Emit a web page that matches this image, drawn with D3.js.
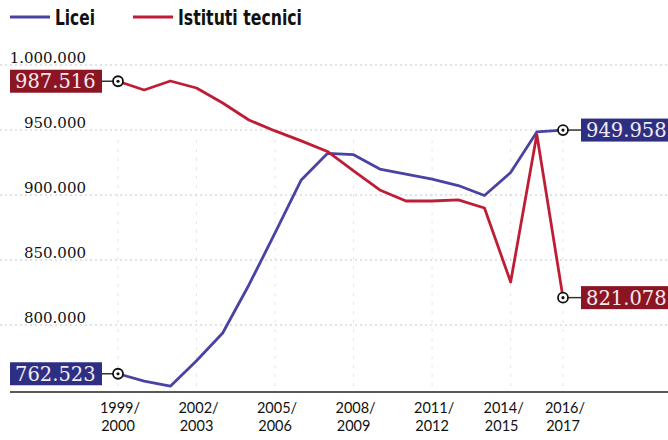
<!DOCTYPE html>
<html>
<head>
<meta charset="utf-8">
<script src="https://cdn.jsdelivr.net/npm/d3@7"></script>
<style>
  body { margin: 0; background: #fff; }
  svg { display: block; }
</style>
</head>
<body>
<div id="chart"></div>
<script>
// school years (start year) and enrolments
const years = [1999, 2000, 2001, 2002, 2003, 2004, 2005, 2006, 2007, 2008, 2009, 2010, 2011, 2012, 2013, 2014, 2015, 2016];
const licei = [762523, 756900, 753000, 772500, 793900, 830800, 870800, 911600, 932000, 931000, 920000, 916100, 912300, 907300, 899600, 917300, 948500, 949958];
const tecnici = [987516, 980800, 987700, 982300, 970800, 957700, 949300, 941600, 933500, 918500, 903900, 895400, 895400, 896200, 890000, 833100, 946500, 821078];

const yTicks = [800000, 850000, 900000, 950000, 1000000];
const xTicks = [1999, 2002, 2005, 2008, 2011, 2014, 2016];
const xTickLabels = ["1999/2000", "2002/2003", "2005/2006", "2008/2009", "2011/2012", "2014/2015", "2016/2017"];

const width = 668;
const height = 440;

const svg = d3.select("#chart").append("svg")
  .attr("width", width)
  .attr("height", height);

const x = d3.scaleLinear().domain([1999, 2016]).range([118, 563]);
const y = d3.scaleLinear().domain([748500, 1000000]).range([392, 65]);

const fmt = d3.formatLocale({ decimal: ",", thousands: ".", grouping: [3], currency: ["", "€"] }).format(",d");

const colLicei = "#4a43a3";
const colTecnici = "#bf1d36";

// vertical faint grid at labelled years
svg.append("g").selectAll("line")
  .data(xTicks)
  .join("line")
  .attr("x1", d => x(d)).attr("x2", d => x(d))
  .attr("y1", 140).attr("y2", 392)
  .attr("stroke", "#e6e6e6")
  .attr("stroke-dasharray", "3,6");

// horizontal dotted grid
svg.append("g").selectAll("line")
  .data(yTicks)
  .join("line")
  .attr("x1", 0).attr("x2", width)
  .attr("y1", d => y(d)).attr("y2", d => y(d))
  .attr("stroke", "#c8c8c8")
  .attr("stroke-width", 1)
  .attr("stroke-dasharray", "2,3");

// y labels
svg.append("g").selectAll("text")
  .data(yTicks)
  .join("text")
  .attr("x", 86)
  .attr("y", d => y(d) - 2)
  .attr("text-anchor", "end")
  .attr("font-family", "'DejaVu Serif', serif")
  .attr("font-size", "15px")
  .attr("fill", "#111")
  .text(d => fmt(d));

// x axis baseline
svg.append("line")
  .attr("x1", 10).attr("x2", width)
  .attr("y1", 392).attr("y2", 392)
  .attr("stroke", "#222")
  .attr("stroke-width", 1.5);

// x labels, two lines each (2014 label nudged left as in the original)
const labelX = d => x(d) + (d === 2014 ? -9 : 0);
const xg = svg.append("g")
  .attr("font-family", "Lato, sans-serif")
  .attr("font-size", "14.5px")
  .attr("fill", "#111")
  .attr("text-anchor", "middle");
xg.selectAll("text.l1")
  .data(xTicks)
  .join("text")
  .attr("class", "l1")
  .attr("x", d => labelX(d) + 2)
  .attr("y", 413)
  .text((d, i) => xTickLabels[i].split("/")[0] + "/");
xg.selectAll("text.l2")
  .data(xTicks)
  .join("text")
  .attr("class", "l2")
  .attr("x", d => labelX(d))
  .attr("y", 430.5)
  .text((d, i) => xTickLabels[i].split("/")[1]);

// lines
const line = d3.line()
  .x((d, i) => x(years[i]))
  .y(d => y(d));

svg.append("path")
  .datum(licei)
  .attr("d", line)
  .attr("fill", "none")
  .attr("stroke", colLicei)
  .attr("stroke-width", 2.8)
  .attr("stroke-linejoin", "round");

svg.append("path")
  .datum(tecnici)
  .attr("d", line)
  .attr("fill", "none")
  .attr("stroke", colTecnici)
  .attr("stroke-width", 2.8)
  .attr("stroke-linejoin", "round");

// end-point labels
const last = years.length - 1;
const callouts = [
  { v: licei[0], yr: years[0], side: "left", fill: "#2d2f82" },
  { v: tecnici[0], yr: years[0], side: "left", fill: "#8c1524" },
  { v: licei[last], yr: years[last], side: "right", fill: "#2d2f82" },
  { v: tecnici[last], yr: years[last], side: "right", fill: "#8c1524" }
];

const boxW = 92, boxH = 23;
callouts.forEach(c => {
  const cx = x(c.yr), cy = y(c.v);
  const bx = c.side === "left" ? cx - 16 - boxW : cx + 18;
  const g = svg.append("g");
  g.append("line")
    .attr("x1", c.side === "left" ? bx + boxW : cx + 5)
    .attr("x2", c.side === "left" ? cx - 5 : bx)
    .attr("y1", cy).attr("y2", cy)
    .attr("stroke", "#333")
    .attr("stroke-width", 1.5);
  g.append("rect")
    .attr("x", bx).attr("y", cy - boxH / 2)
    .attr("width", c.side === "left" ? boxW : boxW + 20).attr("height", boxH)
    .attr("fill", c.fill);
  g.append("text")
    .attr("x", bx + 5)
    .attr("y", cy + 7)
    .attr("font-family", "'DejaVu Serif', serif")
    .attr("font-size", "19.5px")
    .attr("fill", "#f3e9ee")
    .text(fmt(c.v));
  g.append("circle")
    .attr("cx", cx).attr("cy", cy).attr("r", 5)
    .attr("fill", "#fff")
    .attr("stroke", "#111")
    .attr("stroke-width", 1.8);
  g.append("circle")
    .attr("cx", cx).attr("cy", cy).attr("r", 1.6)
    .attr("fill", "#111");
});

// legend
const legend = [
  { name: "Licei", color: colLicei, x: 10, w: 40 },
  { name: "Istituti tecnici", color: colTecnici, x: 133, w: 124 }
];
const lg = svg.append("g").selectAll("g")
  .data(legend)
  .join("g")
  .attr("transform", d => `translate(${d.x},17)`);
lg.append("line")
  .attr("x1", 0).attr("x2", 40)
  .attr("stroke", d => d.color)
  .attr("stroke-width", 3);
lg.append("text")
  .attr("x", 45)
  .attr("y", 8)
  .attr("font-family", "'Liberation Sans Narrow', 'DejaVu Sans Condensed', sans-serif")
  .attr("font-weight", "bold")
  .attr("font-size", "22px")
  .attr("textLength", d => d.w)
  .attr("lengthAdjust", "spacingAndGlyphs")
  .attr("fill", "#111")
  .text(d => d.name);
</script>
</body>
</html>
